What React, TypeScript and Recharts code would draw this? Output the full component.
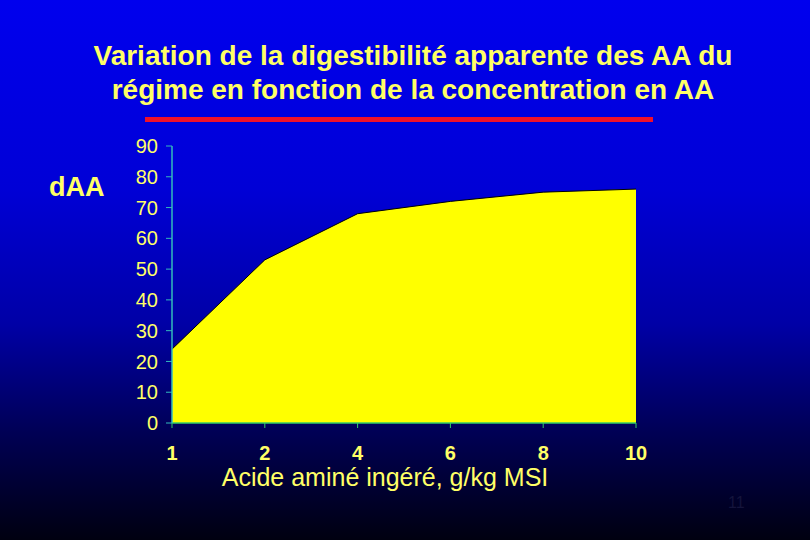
import { AreaChart, Area, XAxis, YAxis } from "recharts";

const doses = ["1", "2", "4", "6", "8", "10"];
const digestibility = [24, 53, 68, 72, 75, 76];
const yTicks = [0, 10, 20, 30, 40, 50, 60, 70, 80, 90];

const data = doses.map((dose, i) => ({ dose, dAA: digestibility[i] }));

const font = "'Liberation Sans', Arial, sans-serif";
const textYellow = "#ffff66";

export default function App() {
  return (
    <div
      style={{
        position: "absolute",
        top: 0,
        left: 0,
        width: 810,
        height: 540,
        overflow: "hidden",
        fontFamily: font,
        background: "linear-gradient(to bottom, #0000ee 0%, #0000d6 35%, #0000a6 60%, #000055 80%, #000010 100%)",
      }}
    >
      <div
        style={{
          position: "absolute",
          top: 39,
          left: 0,
          width: 826,
          textAlign: "center",
          color: textYellow,
          fontWeight: "bold",
          fontSize: 28,
          lineHeight: "34px",
        }}
      >
        Variation de la digestibilité apparente des AA du
        <br />
        régime en fonction de la concentration en AA
      </div>
      <div style={{ position: "absolute", top: 117, left: 145, width: 508, height: 5, background: "#f0102a" }} />
      <div style={{ position: "absolute", top: 172, left: 49, color: textYellow, fontWeight: "bold", fontSize: 27 }}>
        dAA
      </div>
      <div style={{ position: "absolute", top: 463, left: 0, width: 770, textAlign: "center", color: textYellow, fontSize: 25 }}>
        Acide aminé ingéré, g/kg MSI
      </div>
      <div style={{ position: "absolute", top: 494, left: 728, color: "#14143c", fontSize: 16 }}>11</div>
      <div style={{ position: "absolute", top: 0, left: 0 }}>
        <AreaChart width={810} height={540} data={data} margin={{ top: 146, right: 174, bottom: 77, left: 112 }}>
          <XAxis
            dataKey="dose"
            height={40}
            axisLine={{ stroke: "#33cc66", strokeWidth: 1.5 }}
            tickLine={{ stroke: "#33cc66" }}
            tickSize={5}
            tickMargin={18}
            tick={{ fill: textYellow, fontSize: 20, fontWeight: "bold", fontFamily: font }}
            interval={0}
          />
          <YAxis
            width={60}
            domain={[0, 90]}
            ticks={yTicks}
            axisLine={{ stroke: "#33bbbb", strokeWidth: 1.5 }}
            tickLine={{ stroke: "#33bbbb" }}
            tickSize={6}
            tickMargin={8}
            tick={{ fill: textYellow, fontSize: 20, fontFamily: font }}
            interval={0}
          />
          <Area
            type="linear"
            dataKey="dAA"
            fill="#ffff00"
            fillOpacity={1}
            stroke="#000000"
            strokeWidth={1}
            isAnimationActive={false}
          />
        </AreaChart>
      </div>
    </div>
  );
}
